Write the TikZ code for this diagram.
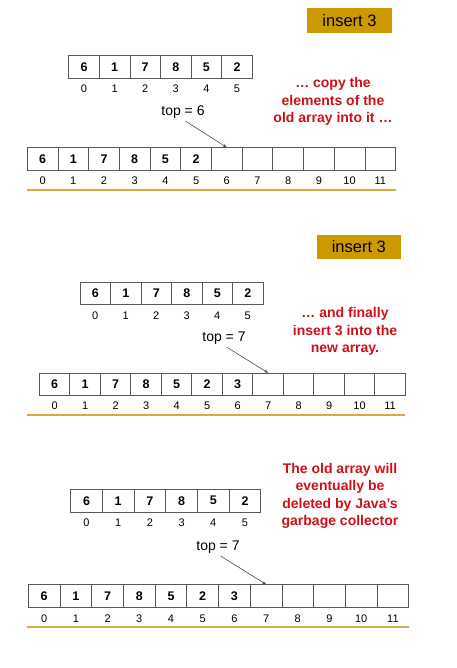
\documentclass[tikz,border=0pt]{standalone}
\usepackage{fontspec}
\setmainfont{Liberation Sans}
\usetikzlibrary{arrows.meta}
\definecolor{boxgold}{HTML}{CC9900}
\definecolor{linegold}{HTML}{D9A93F}
\definecolor{notered}{HTML}{D01018}
\tikzset{
  cell/.style={draw=black!65, line width=0.8pt, minimum height=22.5pt, inner sep=0pt,
    font=\fontsize{12.5}{14}\selectfont\bfseries},
  index/.style={inner sep=0pt, font=\fontsize{11}{12}\selectfont},
  tag/.style={fill=boxgold, inner sep=0pt, font=\fontsize{16.5}{18}\selectfont},
  note/.style={text=notered, align=center, inner sep=0pt, font=\fontsize{14}{17.5}\selectfont\bfseries},
  toplabel/.style={inner sep=1pt, font=\fontsize{14}{16}\selectfont},
  pointer/.style={draw=black!70, line width=0.6pt, shorten <=3pt, -{Stealth[length=4pt,width=3pt]}},
  goldline/.style={draw=linegold, line width=1.2pt}
}

\begin{document}
\begin{tikzpicture}[x=1pt, y=-1pt]
        % fix the page to the size of the slide
        \useasboundingbox (0,0) rectangle (456,668);

        % ---- step 1: copy the old array ----
        % insert tag
        \node[tag, minimum width=85pt, minimum height=25pt] (tagA) at (349.5,20.5) {insert 3};
        % old array with its indices
        \foreach \v [count=\i from 0] in {6,1,7,8,5,2}{
            \node[cell, minimum width=30.6pt] (oldA\i) at ({84+30.6*\i},67) {\v};
            \node[index] (oldAi\i) at ({84+30.6*\i},89) {\i};
        }
        % comment in red
        \node[note] (noteA) at (333,101.5) {\dots\ copy the\\elements of the\\old array into it \dots};
        % new array with its indices
        \foreach \v [count=\i from 0] in {6,1,7,8,5,2,{},{},{},{},{},{}}{
            \node[cell, minimum width=30.7pt] (newA\i) at ({42.6+30.7*\i},159) {\v};
            \node[index] (newAi\i) at ({42.6+30.7*\i},181) {\i};
        }
        % top pointer
        \node[toplabel] (topA) at (183,112) {top = 6};
        \draw[pointer] (topA.south) -- (newA6.north);
        % underline
        \draw[goldline] (27,190) -- (396,190);

        % ---- step 2: insert 3 ----
        % insert tag
        \node[tag, minimum width=84pt, minimum height=24pt] (tagB) at (358.8,247) {insert 3};
        % old array with its indices
        \foreach \v [count=\i from 0] in {6,1,7,8,5,2}{
            \node[cell, minimum width=30.5pt] (oldB\i) at ({95.3+30.5*\i},293.3) {\v};
            \node[index] (oldBi\i) at ({95.3+30.5*\i},316) {\i};
        }
        % comment in red
        \node[note] (noteB) at (345,331.5) {\dots\ and finally\\insert 3 into the\\new array.};
        % new array with its indices
        \foreach \v [count=\i from 0] in {6,1,7,8,5,2,3,{},{},{},{},{}}{
            \node[cell, minimum width=30.5pt] (newB\i) at ({54.6+30.5*\i},384.5) {\v};
            \node[index] (newBi\i) at ({54.6+30.5*\i},406) {\i};
        }
        % top pointer
        \node[toplabel] (topB) at (224,338) {top = 7};
        \draw[pointer] (topB.south) -- (newB7.north);
        % underline
        \draw[goldline] (27,415) -- (405,415);

        % ---- step 3: old array is dropped ----
        % old array with its indices
        \foreach \v [count=\i from 0] in {6,1,7,8,5,2}{
            \node[cell, minimum width=31.7pt] (oldC\i) at ({86.5+31.7*\i},500.7) {\v};
            \node[index] (oldCi\i) at ({86.5+31.7*\i},523) {\i};
        }
        % comment in red
        \node[note] (noteC) at (340,496) {The old array will\\eventually be\\deleted by Java’s\\garbage collector};
        % new array with its indices
        \foreach \v [count=\i from 0] in {6,1,7,8,5,2,3,{},{},{},{},{}}{
            \node[cell, minimum width=31.7pt] (newC\i) at ({44.2+31.7*\i},596) {\v};
            \node[index] (newCi\i) at ({44.2+31.7*\i},618.7) {\i};
        }
        % top pointer
        \node[toplabel] (topC) at (218,547) {top = 7};
        \draw[pointer] (topC.south) -- (newC7.north);
        % underline
        \draw[goldline] (27,627) -- (409,627);
    \end{tikzpicture}
\end{document}
